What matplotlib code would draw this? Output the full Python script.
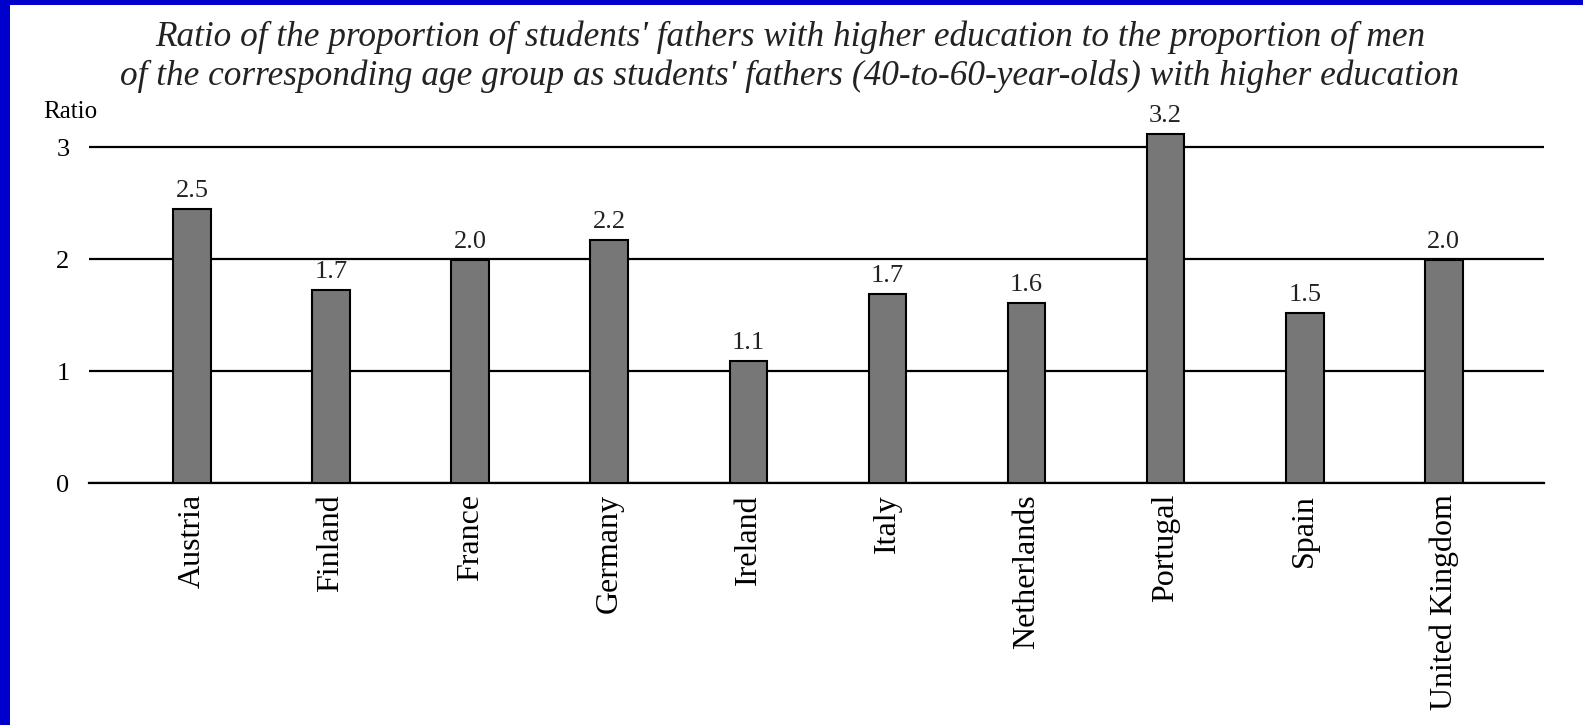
import matplotlib
matplotlib.use("Agg")
import matplotlib.pyplot as plt
from matplotlib.patches import Rectangle

countries = ["Austria", "Finland", "France", "Germany", "Ireland",
             "Italy", "Netherlands", "Portugal", "Spain", "United Kingdom"]
ratios = [2.45, 1.72, 1.99, 2.17, 1.09, 1.69, 1.61, 3.12, 1.52, 1.99]
value_labels = ["2.5", "1.7", "2.0", "2.2", "1.1", "1.7", "1.6", "3.2", "1.5", "2.0"]
yticks = [0, 1, 2, 3]

title = ("Ratio of the proportion of students' fathers with higher education to the proportion of men\n"
         "of the corresponding age group as students' fathers (40-to-60-year-olds) with higher education")

plt.rcParams["font.family"] = ["Liberation Serif", "DejaVu Serif"]

W, H = 1583, 725
fig = plt.figure(figsize=(W / 100, H / 100), dpi=100)
fig.patch.set_facecolor("white")

# blue frame on the left and top
fig.add_artist(Rectangle((0, 0), 10 / W, 1, transform=fig.transFigure,
                         facecolor="#0000cc", edgecolor="none"))
fig.add_artist(Rectangle((0, 1 - 5 / H), 1, 5 / H, transform=fig.transFigure,
                         facecolor="#0000cc", edgecolor="none"))

# axes: y=0 at 483px, y=3 at 147px from top
left, right = 89 / W, 1544 / W
bottom = (H - 483) / H
ytop = 3.3
top = (H - (483 - ytop * 112)) / H
ax = fig.add_axes([left, bottom, right - left, top - bottom])

x = range(len(countries))
bars = ax.bar(x, ratios, width=0.27, color="#777777", edgecolor="black",
              linewidth=1.5, zorder=3)
for b, lab in zip(bars, value_labels):
    ax.annotate(lab, (b.get_x() + b.get_width() / 2, b.get_height()),
                xytext=(0, 5), textcoords="offset points",
                ha="center", va="bottom", fontsize=19, color="#222222")

ax.set_xlim(-0.74, 9.72)
ax.set_ylim(0, ytop)
ax.set_yticks(yticks)
ax.set_yticklabels([str(t) for t in yticks], fontsize=19)
ax.set_xticks(list(x))
ax.set_xticklabels(countries, rotation=90, fontsize=23)
ax.tick_params(axis="both", length=0)
ax.tick_params(axis="y", pad=14)
ax.tick_params(axis="x", pad=8)

ax.yaxis.grid(True, color="black", linewidth=1.6)
ax.set_axisbelow(True)
for s in ["top", "right", "left"]:
    ax.spines[s].set_visible(False)
ax.spines["bottom"].set_linewidth(1.6)

fig.text(70 / W, 1 - 112 / H, "Ratio", ha="center", va="center", fontsize=18)
fig.text(790 / W, 1 - 57 / H, title, ha="center", va="center",
         fontsize=25.4, style="italic", linespacing=1.2, color="#222222")

fig.savefig("out.png", dpi=100)
